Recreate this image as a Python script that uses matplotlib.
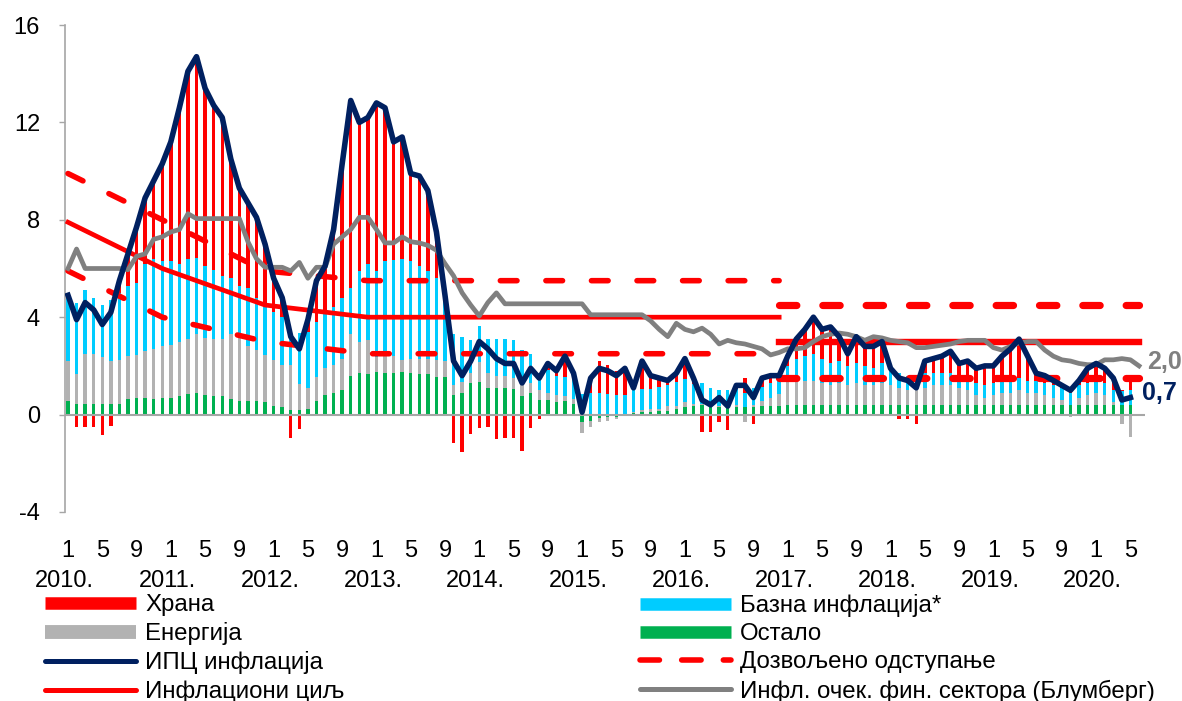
import matplotlib
matplotlib.use('Agg')
import matplotlib.pyplot as plt
from matplotlib.lines import Line2D
from matplotlib.transforms import blended_transform_factory
import numpy as np

plt.rcParams['font.family'] = ['Liberation Sans', 'DejaVu Sans']
plt.rcParams['axes.unicode_minus'] = False

# y/y CPI, monthly Jan 2010 - May 2020
cpi = [4.9, 3.9, 4.6, 4.3, 3.7, 4.2, 5.5, 6.6, 7.7, 8.9, 9.6, 10.3,
       11.2, 12.6, 14.1, 14.7, 13.4, 12.7, 12.2, 10.5, 9.3, 8.7, 8.1, 7.0,
       5.6, 4.8, 3.2, 2.7, 3.9, 5.5, 6.1, 7.6, 10.3, 12.9, 12.0, 12.2,
       12.8, 12.6, 11.2, 11.4, 9.9, 9.8, 9.2, 7.5, 4.9, 2.2, 1.6, 2.2,
       3.0, 2.7, 2.3, 2.1, 2.1, 1.3, 1.9, 1.5, 2.1, 1.8, 2.4, 1.7,
       0.1, 1.5, 1.9, 1.8, 1.6, 1.9, 1.1, 2.2, 1.6, 1.5, 1.4, 1.7,
       2.3, 1.5, 0.6, 0.4, 0.7, 0.35, 1.2, 1.2, 0.7, 1.5, 1.6, 1.6,
       2.4, 3.1, 3.5, 4.0, 3.5, 3.6, 3.2, 2.5, 3.2, 2.8, 2.8, 3.0,
       1.9, 1.5, 1.4, 1.1, 2.2, 2.3, 2.4, 2.6, 2.1, 2.2, 1.9, 2.0,
       2.0, 2.4, 2.7, 3.1, 2.4, 1.7, 1.6, 1.4, 1.2, 1.0, 1.4, 1.9,
       2.1, 1.9, 1.5, 0.6, 0.7]

# contributions (p.p.)
other = [0.55, 0.45, 0.45, 0.45, 0.45, 0.45, 0.45, 0.65, 0.7, 0.7, 0.65, 0.7,
         0.7, 0.75, 0.85, 0.9, 0.8, 0.75, 0.75, 0.65, 0.55, 0.55, 0.55, 0.5,
         0.35, 0.3, 0.2, 0.2, 0.25, 0.55, 0.8, 0.9, 1.0, 1.6, 1.7, 1.65,
         1.75, 1.7, 1.7, 1.75, 1.7, 1.65, 1.65, 1.55, 1.55, 0.8, 0.9, 1.3,
         1.35, 1.1, 1.1, 1.1, 1.05, 0.75, 0.9, 0.6, 0.6, 0.5, 0.55, 0.45,
         -0.3, -0.25, -0.15, -0.1, -0.1, 0.0, 0.05, 0.1, 0.1, 0.15, 0.15, 0.25,
         0.3, 0.35, 0.4, 0.35, 0.3, 0.3, 0.3, 0.3, 0.3, 0.35, 0.35, 0.35,
         0.4, 0.4, 0.4, 0.4, 0.4, 0.4, 0.4, 0.4, 0.4, 0.4, 0.4, 0.4,
         0.4, 0.4, 0.4, 0.4, 0.4, 0.4, 0.4, 0.4, 0.4, 0.4, 0.4, 0.4,
         0.4, 0.4, 0.4, 0.4, 0.4, 0.4, 0.4, 0.4, 0.4, 0.4, 0.4, 0.4,
         0.4, 0.4, 0.4, 0.4, 0.4]

energy = [1.65, 1.2, 2.05, 2.05, 1.9, 1.75, 1.8, 1.75, 1.75, 1.9, 2.05, 2.1,
          2.15, 2.25, 2.25, 2.4, 2.35, 2.35, 2.35, 2.65, 2.8, 2.25, 2.1, 1.95,
          1.9, 1.75, 1.85, 1.05, 0.85, 1.0, 1.1, 1.15, 1.3, 1.7, 1.3, 1.4,
          0.6, 0.8, 0.7, 0.5, 0.6, 0.65, 0.65, 0.7, 0.65, 0.4, 0.45, 0.4,
          0.8, 0.6, 0.5, 0.5, 0.45, 0.55, 0.4, 0.4, 0.3, 0.3, 0.2, 0.2,
          -0.45, -0.25, -0.15, -0.15, -0.1, -0.05, 0.05, 0.1, 0.15, 0.1, 0.2, 0.1,
          0.2, 0.1, 0.05, 0.05, 0.05, 0.1, 0.1, -0.3, 0.1, 0.2, 0.35, 0.5,
          1.0, 1.1, 1.0, 1.0, 0.9, 0.8, 0.9, 0.8, 0.9, 0.8, 0.8, 0.9,
          0.8, 0.7, 0.6, 0.6, 0.7, 0.8, 0.8, 0.8, 0.7, 0.6, 0.4, 0.3,
          0.4, 0.5, 0.5, 0.6, 0.5, 0.5, 0.4, 0.3, 0.2, -0.1, 0.3, 0.4,
          0.5, 0.4, 0.1, -0.4, -0.9]

core = [2.6, 2.95, 2.6, 2.3, 2.15, 2.5, 2.75, 2.9, 2.95, 3.6, 3.7, 3.5,
        3.45, 3.2, 3.3, 3.15, 2.95, 2.85, 2.6, 2.3, 1.95, 2.4, 2.15, 2.05,
        1.95, 1.95, 1.35, 2.1, 2.3, 2.25, 2.4, 2.35, 2.5, 1.9, 2.9, 3.15,
        3.55, 3.8, 3.95, 4.15, 4.0, 3.8, 3.6, 3.35, 2.7, 2.1, 1.85, 1.35,
        1.5, 1.4, 1.5, 1.5, 1.55, 1.35, 1.2, 0.7, 0.95, 0.8, 0.8, 0.9,
        0.85, 0.9, 0.9, 0.85, 0.8, 0.8, 0.9, 0.85, 0.8, 0.9, 0.85, 1.0,
        0.95, 0.8, 0.85, 0.7, 0.65, 0.6, 0.65, 0.6, 0.7, 0.6, 0.6, 0.55,
        0.6, 0.8, 1.0, 1.1, 1.0, 0.9, 0.9, 0.8, 0.8, 0.8, 0.7, 0.8,
        0.7, 0.6, 0.6, 0.5, 0.6, 0.5, 0.5, 0.5, 0.5, 0.5, 0.5, 0.5,
        0.5, 0.5, 0.5, 0.5, 0.5, 0.5, 0.5, 0.5, 0.5, 0.5, 0.5, 0.5,
        0.5, 0.5, 0.5, 0.55, 0.6]

food = [0.1, -0.5, -0.5, -0.5, -0.85, -0.45, 0.5, 1.3, 2.3, 2.7, 3.2, 4.0,
        4.9, 6.4, 7.7, 8.25, 7.3, 6.75, 6.5, 4.9, 4.0, 3.5, 3.3, 2.5,
        1.4, 0.8, -0.95, -0.6, 0.5, 1.7, 1.8, 3.2, 5.5, 7.7, 6.1, 6.0,
        6.9, 6.3, 4.85, 5.0, 3.6, 3.7, 3.3, 1.9, 0.0, -1.15, -1.55, -0.8,
        -0.55, -0.5, -1.0, -0.95, -0.95, -1.5, -0.55, -0.2, 0.25, 0.2, 0.85, 0.15,
        0.0, 0.7, 1.3, 1.2, 1.0, 1.15, 0.1, 1.15, 0.55, 0.35, 0.2, 0.35,
        0.85, 0.25, -0.7, -0.7, -0.3, -0.65, 0.15, 0.6, -0.4, 0.35, 0.3, 0.2,
        0.4, 0.8, 1.1, 1.5, 1.2, 1.5, 1.0, 0.5, 1.1, 0.8, 0.9, 0.9,
        0.0, -0.2, -0.2, -0.4, 0.5, 0.6, 0.7, 0.9, 0.5, 0.7, 0.6, 0.8,
        0.7, 1.0, 1.3, 1.6, 1.0, 0.3, 0.3, 0.2, 0.1, 0.2, 0.2, 0.6,
        0.7, 0.6, 0.5, 0.05, 0.6]

# financial sector expectations (Bloomberg), Jan 2010 - Jun 2020
expect = [6.0, 6.8, 6.0, 6.0, 6.0, 6.0, 6.0, 5.95, 6.5, 6.6, 7.2, 7.3,
          7.5, 7.6, 8.25, 8.05, 8.05, 8.05, 8.05, 8.05, 8.05, 7.1, 6.4, 6.05,
          6.05, 6.05, 5.9, 6.25, 5.6, 6.05, 6.05, 7.0, 7.3, 7.6, 8.1, 8.1,
          7.6, 7.05, 7.05, 7.3, 7.1, 7.05, 6.95, 6.75, 6.2, 5.7, 5.0, 4.5,
          4.05, 4.6, 5.0, 4.55, 4.55, 4.55, 4.55, 4.55, 4.55, 4.55, 4.55, 4.55,
          4.55, 4.1, 4.1, 4.1, 4.1, 4.1, 4.1, 4.1, 3.85, 3.5, 3.2, 3.75,
          3.5, 3.4, 3.55, 3.3, 2.9, 3.05, 2.95, 2.9, 2.8, 2.7, 2.45, 2.55,
          2.7, 2.7, 2.75, 3.0, 3.2, 3.3, 3.35, 3.3, 3.2, 3.05, 3.2, 3.15,
          3.05, 3.0, 2.95, 2.75, 2.75, 2.8, 2.85, 2.9, 3.0, 3.05, 3.05, 3.05,
          2.75, 2.65, 2.8, 2.95, 3.0, 3.0, 2.65, 2.4, 2.25, 2.2, 2.1, 2.05,
          2.05, 2.25, 2.25, 2.3, 2.25, 2.0]

# inflation target and tolerance band (breakpoints, month index)
tgt1_m = [0, 11, 23, 35, 83]
tgt1 = [7.9, 6.0, 4.5, 4.0, 4.0]
upp1 = [9.9, 8.0, 5.9, 5.5, 5.5]
low1 = [5.9, 4.0, 3.0, 2.5, 2.5]
tgt2_m = [83, 125]
tgt2 = [3.0, 3.0]
upp2 = [4.5, 4.5]
low2 = [1.5, 1.5]

years = ['2010.', '2011.', '2012.', '2013.', '2014.', '2015.',
         '2016.', '2017.', '2018.', '2019.', '2020.']
month_lbl = ['1', '5', '9']

RED = '#FF0000'
BLUE = '#00CCFF'
GRAY = '#B2B2B2'
GREEN = '#00B050'
NAVY = '#002060'
EXPG = '#808080'

W, H = 1182, 701
fig = plt.figure(figsize=(W / 100, H / 100), dpi=100)
ax = fig.add_axes([65 / W, 1 - 512 / H, 1080 / W, 487 / H])

m = np.arange(len(cpi))
pos = np.zeros(len(cpi))
neg = np.zeros(len(cpi))
for vals, col in [(other, GREEN), (energy, GRAY), (core, BLUE), (food, RED)]:
    v = np.array(vals)
    p = np.where(v > 0, v, 0)
    n = np.where(v < 0, v, 0)
    ax.bar(m, p, 0.4, bottom=pos, color=col, lw=0, zorder=2)
    ax.bar(m, n, 0.4, bottom=neg, color=col, lw=0, zorder=2)
    pos += p
    neg += n

ax.axhline(0, color='#A6A6A6', lw=1.5, zorder=3)

# tolerance band
for yy in (upp1, low1):
    ax.plot(tgt1_m, yy, color=RED, lw=4, dashes=(3, 5.2),
            dash_capstyle='round', zorder=4)
for yy in (upp2, low2):
    ax.plot(tgt2_m, yy, color=RED, lw=5.2, dashes=(2.4, 3.6),
            dash_capstyle='round', zorder=4)
ax.plot(tgt1_m, tgt1, color=RED, lw=3.4, zorder=5)
ax.plot(tgt2_m, tgt2, color=RED, lw=4.6, zorder=5)

ax.plot(np.arange(len(expect)), expect, color=EXPG, lw=3.4, zorder=6,
        solid_joinstyle='round')
ax.plot(m, cpi, color=NAVY, lw=4, zorder=7, solid_joinstyle='round')

ax.text(125.9, 2.17, '2,0', color=EXPG, fontsize=18, fontweight='bold',
        ha='left', va='center', clip_on=False)
ax.text(125.3, 0.9, '0,7', color=NAVY, fontsize=18, fontweight='bold',
        ha='left', va='center', clip_on=False)

ax.set_xlim(-0.35, 125.7)
ax.set_ylim(-4, 16)
ax.set_yticks(range(-4, 17, 4))
xt = list(range(0, 125, 4))
ax.set_xticks(xt)
ax.set_xticklabels([month_lbl[k % 3] for k in range(len(xt))])
ax.tick_params(axis='x', length=0, pad=20, labelsize=17)
ax.tick_params(axis='y', length=4, width=1, color='#A6A6A6', pad=14,
               labelsize=17)
for s in ('top', 'right', 'bottom'):
    ax.spines[s].set_visible(False)
ax.spines['left'].set_color('#A6A6A6')
ax.spines['left'].set_linewidth(1.2)

tr = blended_transform_factory(ax.transData, ax.transAxes)
for k, yr in enumerate(years):
    ax.text(12 * k - 0.4, -0.154, yr, transform=tr, ha='center',
            va='baseline', fontsize=17)

h1 = [Line2D([], [], color=RED, lw=9, solid_capstyle='butt'),
      Line2D([], [], color=GRAY, lw=10, solid_capstyle='butt'),
      Line2D([], [], color=NAVY, lw=3.6, solid_capstyle='round'),
      Line2D([], [], color=RED, lw=3.6, solid_capstyle='round')]
l1 = ['Храна', 'Енергија', 'ИПЦ инфлација', 'Инфлациони циљ']
h2 = [Line2D([], [], color=BLUE, lw=9, solid_capstyle='butt'),
      Line2D([], [], color=GREEN, lw=9, solid_capstyle='butt'),
      Line2D([], [], color=RED, lw=4, dashes=(3.5, 4.0), dash_capstyle='round'),
      Line2D([], [], color=EXPG, lw=3.6, solid_capstyle='round')]
l2 = ['Базна инфлација*', 'Остало', 'Дозвољено одступање',
      'Инфл. очек. фин. сектора (Блумберг)']

for hh, ll, x0 in ((h1, l1, 45), (h2, l2, 640)):
    fig.legend(hh, ll, loc='upper left', bbox_to_anchor=(x0 / W, 1 - 594 / H),
               frameon=False, borderpad=0, borderaxespad=0, fontsize=17.3,
               handlelength=3.8, handletextpad=0.37, labelspacing=0.26)

fig.savefig('out.png', dpi=100)
